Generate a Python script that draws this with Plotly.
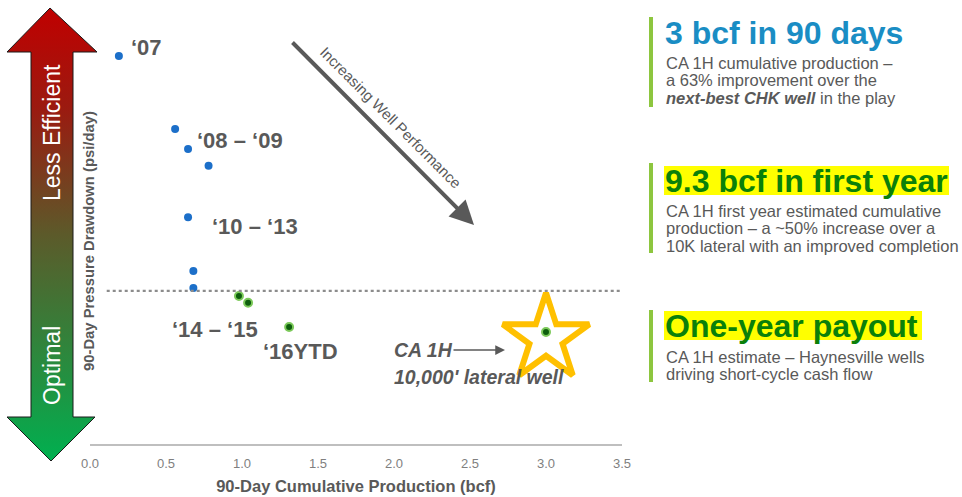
import plotly.graph_objects as go

# ---- data -------------------------------------------------------------
# 90-day cumulative production (bcf) vs 90-day pressure drawdown (psi/day)
hist_prod = [0.19, 0.56, 0.645, 0.78, 0.645, 0.68, 0.68]
hist_drawdown = [91.5, 74.3, 69.6, 65.6, 53.5, 40.8, 36.8]

recent_prod = [0.98, 1.04, 1.31]
recent_drawdown = [34.9, 33.3, 27.6]

ca1h_prod = [3.0]
ca1h_drawdown = [26.4]

optimal_threshold = 36.1

era_labels = ["\u201807", "\u201808 \u2013 \u201809", "\u201810 \u2013 \u201813",
              "\u201814 \u2013 \u201815", "\u201816YTD"]
era_x = [0.257, 0.691, 0.789, 0.526, 1.125]
era_y = [93.6, 71.5, 51.2, 26.9, 21.9]

x_ticks = [0.0, 0.5, 1.0, 1.5, 2.0, 2.5, 3.0, 3.5]

W, H = 962, 497
FONT = "Arial, Liberation Sans, sans-serif"
GRAY = "#595959"

# plot area in pixels
PX0, PX1, PY0, PY1 = 90, 622, 20, 444


def px(x):
    return x / W


def py(y):
    return 1 - y / H


fig = go.Figure()

# ---- scatter points --------------------------------------------------
fig.add_trace(go.Scatter(
    x=hist_prod, y=hist_drawdown, mode="markers",
    marker=dict(size=8, color="#1c6fc9", line=dict(width=0)),
    hoverinfo="skip", showlegend=False))

# star highlight around the CA 1H well (sits a touch below the dot)
star_drop = 1.5
fig.add_trace(go.Scatter(
    x=ca1h_prod, y=[v - star_drop for v in ca1h_drawdown], mode="markers",
    marker=dict(symbol="star", size=65, color="white",
                line=dict(color="#ffc000", width=6)),
    hoverinfo="skip", showlegend=False))

fig.add_trace(go.Scatter(
    x=recent_prod + ca1h_prod, y=recent_drawdown + ca1h_drawdown, mode="markers",
    marker=dict(size=8, color="#0d5e0d", line=dict(color="#7cc95a", width=2)),
    hoverinfo="skip", showlegend=False))

# ---- double-headed gradient arrow (pixel overlay axes) ---------------
ax_x = [50, 97, 73, 73, 95, 51, 7, 31, 31, 7, 50]
ax_y = [8, 52, 52, 417, 417, 461, 417, 417, 52, 52, 8]
fig.add_trace(go.Scatter(
    x=ax_x, y=ax_y, xaxis="x2", yaxis="y2", mode="lines",
    fill="toself",
    fillgradient=dict(type="vertical", start=8, stop=461,
                      colorscale=[[0, "#c00000"], [0.22, "#9b1a10"],
                                  [0.5, "#5c5a2a"], [0.78, "#2a8a3e"],
                                  [1, "#00b050"]]),
    line=dict(color="#1a1a1a", width=1),
    hoverinfo="skip", showlegend=False))

layout_shapes = [
    # optimal threshold dotted line
    dict(type="line", xref="x", yref="y", x0=0.11, x1=3.5,
         y0=optimal_threshold, y1=optimal_threshold,
         line=dict(color="#8c8c8c", width=2.2, dash="dot")),
]

# green accent bars on the right-hand callouts
for y0, y1 in [(17, 107), (163, 253), (310, 382)]:
    layout_shapes.append(dict(type="rect", xref="paper", yref="paper",
                              x0=px(649), x1=px(653), y0=py(y1), y1=py(y0),
                              fillcolor="#8dc63f", line=dict(width=0), layer="below"))

# yellow highlight behind two of the headlines
for x1, y0, y1 in [(949, 166, 195), (922, 311, 340)]:
    layout_shapes.append(dict(type="rect", xref="paper", yref="paper",
                              x0=px(664), x1=px(x1), y0=py(y1), y1=py(y0),
                              fillcolor="#ffff00", line=dict(width=0), layer="below"))

annotations = []

# era labels
for t, x, y in zip(era_labels, era_x, era_y):
    annotations.append(dict(text=f"<b>{t}</b>", x=x, y=y, xref="x", yref="y",
                            xanchor="left", yanchor="middle", showarrow=False,
                            font=dict(family=FONT, size=22, color=GRAY)))

annotations += [
    dict(text="<b><i>CA 1H</i></b>", x=1.99, y=22.2, xref="x", yref="y",
         xanchor="left", yanchor="middle", showarrow=False,
         font=dict(family=FONT, size=19.5, color=GRAY)),
    dict(text="<b><i>10,000' lateral well</i></b>", x=1.987, y=15.8,
         xref="x", yref="y", xanchor="left", yanchor="middle", showarrow=False,
         font=dict(family=FONT, size=19.5, color=GRAY)),
    # small pointer to the star
    dict(text="", x=505, y=350, xref="x2", yref="y2",
         ax=452, ay=350, axref="x2", ayref="y2",
         showarrow=True, arrowhead=2, arrowsize=1.3, arrowwidth=1.5,
         arrowcolor=GRAY),
    # diagonal performance arrow
    dict(text="", x=474, y=225, xref="x2", yref="y2",
         ax=291, ay=41, axref="x2", ayref="y2",
         showarrow=True, arrowhead=2, arrowsize=1.2, arrowwidth=4,
         arrowcolor=GRAY),
    dict(text="Increasing Well Performance", x=px(391), y=py(117),
         xref="paper", yref="paper", xanchor="center", yanchor="middle",
         textangle=45, showarrow=False,
         font=dict(family=FONT, size=15, color=GRAY)),
    # y-axis title
    dict(text="<b>90-Day Pressure Drawdown (psi/day)</b>", x=px(89), y=py(241),
         xref="paper", yref="paper", xanchor="center", yanchor="middle",
         textangle=-90, showarrow=False,
         font=dict(family=FONT, size=14.8, color=GRAY)),
    # arrow captions
    dict(text="Less Efficient", x=px(52), y=py(133), xref="paper", yref="paper",
         xanchor="center", yanchor="middle", textangle=-90, showarrow=False,
         font=dict(family=FONT, size=23, color="white")),
    dict(text="Optimal", x=px(52), y=py(366), xref="paper", yref="paper",
         xanchor="center", yanchor="middle", textangle=-90, showarrow=False,
         font=dict(family=FONT, size=23, color="white")),
]

# right-hand callouts: headline, then body lines
callouts = [
    ("3 bcf in 90 days", "#1a8dc4", 33,
     ["CA 1H cumulative production \u2013",
      "a 63% improvement over the",
      "<b><i>next-best CHK well</i></b> in the play"], [63, 80, 98]),
    ("9.3 bcf in first year", "#0a800a", 181,
     ["CA 1H first year estimated cumulative",
      "production \u2013 a ~50% increase over a",
      "10K lateral with an improved completion"], [211, 228, 246]),
    ("One-year payout", "#0a800a", 326,
     ["CA 1H estimate \u2013 Haynesville wells",
      "driving short-cycle cash flow"], [357, 374]),
]
for head, col, hy, lines, ly in callouts:
    annotations.append(dict(
        text=f"<b>{head}</b>", x=px(663), y=py(hy), xref="paper", yref="paper",
        xanchor="left", yanchor="middle", showarrow=False,
        font=dict(family=FONT, size=32, color=col)))
    for t, y in zip(lines, ly):
        annotations.append(dict(
            text=t, x=px(664), y=py(y), xref="paper", yref="paper",
            xanchor="left", yanchor="middle", align="left", showarrow=False,
            font=dict(family=FONT, size=16.5, color=GRAY)))

fig.update_layout(
    width=W, height=H,
    margin=dict(l=0, r=0, t=0, b=0, autoexpand=False),
    paper_bgcolor="white", plot_bgcolor="rgba(0,0,0,0)",
    showlegend=False,
    xaxis=dict(domain=[PX0 / W, PX1 / W], range=[0, 3.5],
               tickvals=x_ticks, ticktext=[f"{v:.1f}" for v in x_ticks],
               showgrid=False, zeroline=False, showline=True,
               linecolor="#bfbfbf", linewidth=2, ticks="",
               ticklabelstandoff=6,
               tickfont=dict(family=FONT, size=13, color="#7f7f7f"),
               title=dict(text="<b>90-Day Cumulative Production (bcf)</b>",
                          font=dict(family=FONT, size=16.5, color=GRAY),
                          standoff=11),
               anchor="y", fixedrange=True),
    yaxis=dict(domain=[1 - PY1 / H, 1 - PY0 / H], range=[0, 100],
               visible=False, anchor="x", fixedrange=True),
    xaxis2=dict(domain=[0, 1], range=[0, W], visible=False, anchor="y2",
                fixedrange=True),
    yaxis2=dict(domain=[0, 1], range=[H, 0], visible=False, anchor="x2",
                fixedrange=True),
    shapes=layout_shapes,
    annotations=annotations,
)

fig.write_html("out.html")
